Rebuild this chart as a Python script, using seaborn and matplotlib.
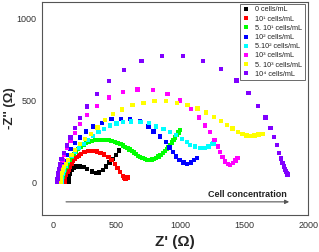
import matplotlib
matplotlib.use("Agg")
import matplotlib.pyplot as plt
import seaborn as sns
import pandas as pd
from matplotlib.ticker import MultipleLocator
from matplotlib.lines import Line2D

# ---- data (Z' , -Z'' in ohm) ----
labels = ["0 cells/mL", "10\u00b9 cells/mL", "5. 10\u00b9 cells/mL", "10\u00b2 cells/mL",
          "5.10\u00b2 cells/mL", "10\u00b3 cells/mL", "5. 10\u00b3 cells/mL", "10\u2074 cells/mL"]
colors = ["#000000", "#ff0000", "#00ff00", "#0000ff", "#00ffff", "#ff00ff", "#ffff00", "#8000ff"]

black_x = [125, 128, 135, 149, 165, 188, 212, 240, 271, 306, 339, 365, 392, 418, 444, 470, 496, 520]
black_y = [0, 24, 50, 75, 88, 95, 96, 91, 79, 65, 55, 59, 75, 95, 120, 140, 166, 193]

red_x = [92, 94, 98, 104, 115, 125, 136, 148, 161, 175, 188, 205, 222, 248, 279, 313, 345, 376, 404,
         436, 462, 488, 509, 527, 549, 560, 570, 578, 585]
red_y = [0, 14, 28, 44, 61, 78, 95, 112, 130, 142, 152, 163, 171, 183, 189, 191, 187, 180, 168,
         152, 136, 112, 85, 61, 38, 28, 22, 24, 28]

green_x = [72, 74, 78, 85, 96, 108, 122, 135, 149, 165, 183, 200, 219, 240, 261, 283, 306, 330, 357,
           383, 410, 436, 462, 486, 509, 530, 549, 567, 585, 602, 619, 636, 653, 668, 684, 703, 723,
           740, 757, 776, 794, 811, 828, 845, 862, 878, 893, 906, 919, 932, 945, 958, 972, 985, 998]
green_y = [0, 15, 34, 55, 75, 96, 116, 136, 156, 172, 187, 203, 217, 228, 238, 246, 252, 256, 258,
           259, 258, 256, 252, 247, 241, 232, 223, 215, 207, 199, 191, 181, 171, 161, 152, 146, 140,
           137, 136, 138, 142, 148, 156, 166, 177, 189, 201, 214, 227, 242, 258, 273, 288, 303, 319]

blue_x = [60, 62, 65, 70, 78, 89, 110, 141, 175, 214, 261, 318, 384, 462, 535, 606, 684, 749, 788,
          841, 885, 914, 940, 966, 992, 1024, 1050, 1081, 1107, 1128]
blue_y = [0, 22, 45, 70, 98, 126, 166, 203, 238, 272, 309, 339, 363, 384, 386, 384, 370, 339, 309,
          278, 244, 211, 183, 156, 135, 120, 112, 120, 136, 148]

cyan_x = [70, 72, 75, 80, 89, 103, 122, 149, 175, 208, 240, 279, 318, 360, 404, 450, 500, 550, 614,
          689, 752, 810, 867, 919, 966, 1011, 1050, 1076, 1115, 1154, 1188, 1219, 1246, 1259]
cyan_y = [0, 14, 30, 50, 70, 98, 128, 160, 184, 210, 232, 258, 282, 305, 325, 345, 358, 366, 370,
          368, 360, 339, 323, 305, 287, 264, 244, 227, 217, 207, 207, 217, 232, 236]

yellow_x = [62, 64, 67, 72, 80, 89, 104, 122, 149, 175, 214, 253, 298, 350, 410, 472, 543, 624, 710,
            796, 885, 972, 1055, 1133, 1199, 1262, 1317, 1366, 1408, 1450, 1486, 1517, 1549, 1580,
            1611, 1643]
yellow_y = [0, 18, 36, 56, 75, 92, 112, 135, 166, 198, 232, 262, 295, 335, 378, 415, 445, 470, 485,
            494, 494, 485, 471, 449, 426, 398, 372, 349, 327, 305, 294, 284, 282, 284, 290, 296]

magenta_x = [52, 54, 57, 62, 68, 77, 90, 110, 141, 175, 214, 271, 345, 441, 549, 663, 784, 898, 998,
             1081, 1147, 1194, 1233, 1267, 1293, 1311, 1329, 1350, 1371, 1390, 1411, 1431, 1447]
magenta_y = [0, 20, 40, 68, 98, 132, 170, 210, 252, 299, 354, 410, 465, 516, 551, 567, 563, 538, 498,
             447, 394, 346, 306, 258, 217, 183, 152, 126, 112, 105, 116, 132, 146]

purple_x = [36, 38, 41, 44, 49, 57, 70, 89, 110, 141, 175, 214, 271, 345, 439, 559, 697, 854, 1019,
            1176, 1317, 1439, 1533, 1606, 1666, 1705, 1734, 1755, 1773, 1788, 1800, 1811, 1820, 1827,
            1833, 1838]
purple_y = [0, 18, 36, 55, 80, 108, 140, 177, 223, 274, 331, 392, 461, 538, 618, 685, 740, 770, 770,
            741, 691, 620, 546, 467, 396, 331, 276, 227, 180, 145, 117, 95, 78, 65, 55, 48]

# same order as labels: 0, 10^1, 5.10^1, 10^2, 5.10^2, 10^3, 5.10^3, 10^4
series_x = [black_x, red_x, green_x, blue_x, cyan_x, magenta_x, yellow_x, purple_x]
series_y = [black_y, red_y, green_y, blue_y, cyan_y, magenta_y, yellow_y, purple_y]

frames = []
for lab, xs, ys in zip(labels, series_x, series_y):
    frames.append(pd.DataFrame({"x": xs, "y": ys, "series": lab}))
df = pd.concat(frames, ignore_index=True)

sns.set_style("white")
plt.rcParams["font.family"] = ["Liberation Sans", "DejaVu Sans"]

fig = plt.figure(figsize=(3.19, 2.52), dpi=100)
ax = fig.add_axes([0.131, 0.147, 0.835, 0.845])

pal = dict(zip(labels, colors))
sns.scatterplot(data=df, x="x", y="y", hue="series", hue_order=labels, palette=pal,
                marker="s", s=10, linewidth=0, ax=ax, legend=False, zorder=3)

ax.set_xlim(-85, 2000)
ax.set_ylim(-200, 1100)
ax.xaxis.set_major_locator(MultipleLocator(500))
ax.xaxis.set_minor_locator(MultipleLocator(250))
ax.yaxis.set_major_locator(MultipleLocator(500))
ax.yaxis.set_minor_locator(MultipleLocator(250))
ax.tick_params(which="major", direction="in", length=3, width=0.7, color="#444444",
               labelsize=6.5, labelcolor="#333333", pad=4)
ax.tick_params(which="minor", direction="in", length=1.8, width=0.6, color="#444444")
for sp in ax.spines.values():
    sp.set_color("#555555")
    sp.set_linewidth(0.8)

ax.set_xlabel("Z' (\u03a9)", fontsize=11, fontweight="bold", labelpad=4)
ax.set_ylabel("-Z'' (\u03a9)", fontsize=9.5, fontweight="bold")
ax.yaxis.set_label_coords(-0.098, 0.5)

ax.annotate("", xy=(1873, -120), xytext=(83, -120),
            arrowprops=dict(arrowstyle="-|>", color="#555555", lw=0.8, mutation_scale=6))
ax.text(1830, -78, "Cell concentration", ha="right", va="center", fontsize=6.5,
        fontweight="bold", color="#222222")

handles = [Line2D([0], [0], marker="s", linestyle="none", markersize=3.0,
                  markerfacecolor=c, markeredgewidth=0) for c in colors]
leg = ax.legend(handles, labels, loc="upper right", bbox_to_anchor=(0.99, 0.995),
                fontsize=5.2, frameon=True, fancybox=False, edgecolor="#444444",
                borderpad=0.35, labelspacing=0.3, handlelength=0.9, handletextpad=0.8,
                borderaxespad=0.1)
leg.get_frame().set_linewidth(0.7)
for t in leg.get_texts():
    t.set_color("#222222")

fig.savefig("out.png", dpi=100)
